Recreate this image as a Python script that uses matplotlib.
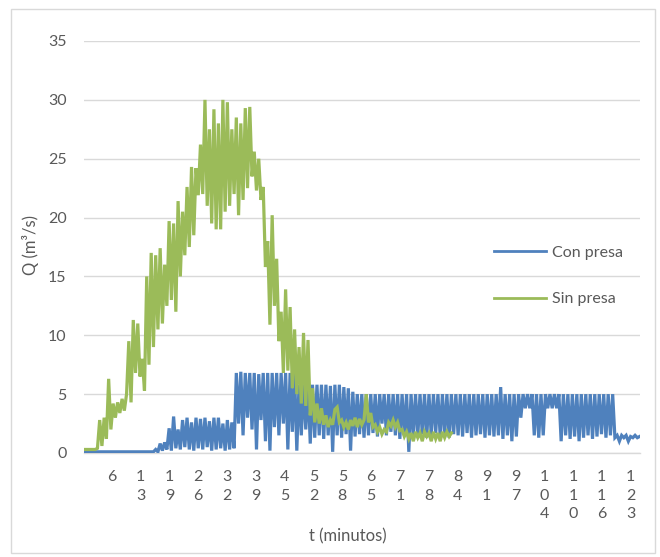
import numpy as np
import matplotlib
matplotlib.use("Agg")
import matplotlib.pyplot as plt
from matplotlib.patches import Rectangle

plt.rcParams['font.family'] = ['Lato', 'DejaVu Sans']

# Data: discharge values sampled every 0.5 min
dt_min = 0.5
q_sin_presa = [
    0.3, 0.3, 0.3, 0.3, 0.3, 0.3, 0.4, 2.8, 0.6, 3.0,
    1.2, 6.3, 2.0, 4.2, 3.0, 4.3, 3.4, 4.6, 3.6, 5.0,
    9.5, 4.3, 11.3, 6.8, 11.0, 6.5, 8.0, 5.3, 15.0, 7.5,
    17.0, 9.0, 16.8, 10.5, 17.4, 11.0, 16.0, 12.5, 19.7, 13.0,
    19.5, 12.0, 21.4, 15.0, 20.5, 16.8, 22.6, 17.5, 24.3, 18.5,
    24.2, 21.9, 26.2, 22.0, 30.0, 21.0, 27.5, 19.5, 29.2, 19.0,
    28.0, 19.0, 30.0, 20.5, 29.8, 21.0, 27.5, 22.0, 28.5, 20.2,
    28.0, 21.5, 29.3, 22.5, 29.4, 23.5, 25.6, 22.3, 25.0, 21.5,
    22.6, 15.8, 18.0, 10.9, 20.2, 12.5, 16.5, 9.5, 12.0, 6.8,
    13.9, 7.0, 12.4, 5.5, 10.5, 5.0, 9.0, 4.2, 10.2, 4.0,
    9.6, 3.2, 5.5, 2.6, 4.2, 2.5, 3.8, 2.4, 3.2, 2.2,
    2.8, 2.4, 3.7, 3.9, 2.6, 2.8, 2.2, 2.6, 2.0, 2.8,
    2.3, 3.0, 2.2, 2.9, 2.4, 2.8, 5.0, 2.6, 3.4, 2.2,
    2.4, 1.8, 2.2, 1.6, 2.0, 1.8, 2.6, 2.3, 2.8, 2.2,
    2.6, 1.9, 2.0, 1.4, 1.8, 1.2, 1.7, 1.0, 1.8, 1.3,
    1.7, 1.0, 1.8, 1.4, 1.7, 1.0, 1.8, 1.2, 1.7, 1.0,
    1.8, 1.3, 1.8, 1.4, 1.7,
]
q_con_presa = [
    0.1, 0.1, 0.1, 0.1, 0.1, 0.1, 0.1, 0.1, 0.1, 0.1,
    0.1, 0.1, 0.1, 0.1, 0.1, 0.1, 0.1, 0.1, 0.1, 0.1,
    0.1, 0.1, 0.1, 0.1, 0.1, 0.1, 0.1, 0.1, 0.1, 0.1,
    0.1, 0.1, 0.3, 0.1, 0.8, 0.2, 0.9, 0.3, 2.1, 0.2,
    3.1, 0.4, 2.0, 0.3, 2.8, 0.5, 3.0, 0.3, 2.6, 0.2,
    3.0, 0.4, 2.9, 0.3, 3.0, 0.5, 2.7, 0.2, 3.0, 0.3,
    3.0, 0.4, 2.5, 0.2, 2.8, 0.3, 2.6, 0.4, 6.8, 2.5,
    6.9, 1.5, 6.8, 3.0, 6.8, 2.0, 6.8, 0.3, 6.7, 2.8,
    6.8, 1.0, 6.8, 0.2, 6.8, 2.2, 6.8, 1.5, 6.8, 2.5,
    6.8, 0.3, 6.8, 1.8, 6.8, 0.2, 5.8, 1.5, 5.8, 2.0,
    5.8, 0.8, 5.8, 1.3, 5.8, 1.5, 5.8, 1.2, 5.8, 1.5,
    5.7, 0.1, 5.8, 1.5, 5.8, 1.3, 5.6, 1.6, 5.5, 0.2,
    5.2, 1.4, 5.0, 1.6, 5.0, 1.3, 5.0, 1.5, 5.0, 1.7,
    5.0, 1.4, 5.0, 2.5, 5.0, 1.5, 5.0, 1.8, 5.0, 1.5,
    5.0, 1.2, 5.0, 1.5, 5.0, 0.1, 5.0, 1.5, 5.0, 1.4,
    5.0, 1.6, 5.0, 1.3, 5.0, 1.5, 5.0, 1.7, 5.0, 1.4,
    5.0, 1.5, 5.0, 1.3, 5.0, 1.6, 5.0, 1.5, 5.0, 1.4,
    5.0, 1.7, 5.0, 1.3, 5.0, 1.5, 5.0, 1.6, 5.0, 1.3,
    5.0, 1.5, 5.0, 1.4, 5.0, 1.5, 5.6, 1.2, 5.0, 1.5,
    5.0, 1.0, 5.0, 1.4, 5.0, 3.0, 5.0, 3.8, 5.0, 3.8,
    5.0, 1.5, 5.0, 1.3, 5.0, 1.5, 5.0, 3.8, 5.0, 3.8,
    5.0, 3.8, 5.0, 1.0, 5.0, 1.5, 5.0, 1.2, 5.0, 1.4,
    5.0, 1.0, 5.0, 1.3, 5.0, 1.5, 5.0, 1.2, 5.0, 1.4,
    5.0, 1.6, 5.0, 1.3, 5.0, 1.5, 5.0, 1.3, 1.5, 1.0,
    1.5, 1.3, 1.5, 1.0, 1.4, 1.3, 1.5, 1.3, 1.4,
]
tick_labels = ["6", "13", "19", "26", "32", "39", "45", "52", "58", "65",
               "71", "78", "84", "91", "97", "104", "110", "116", "123"]
series_names = ["Con presa", "Sin presa"]
colors = ["#4F81BD", "#9BBB59"]

t_con = np.arange(len(q_con_presa)) * dt_min
t_sin = np.arange(len(q_sin_presa)) * dt_min

W, H = 660, 557
FS = 11.5
fig = plt.figure(figsize=(W / 100, H / 100), dpi=100)
ax = fig.add_axes([84 / W, 1 - 453 / H, (640 - 84) / W, (453 - 41) / H])

ax.plot(t_con, q_con_presa, color=colors[0], lw=2.3, label=series_names[0],
        solid_joinstyle='miter', zorder=3)
ax.plot(t_sin, q_sin_presa, color=colors[1], lw=2.3, label=series_names[1],
        solid_joinstyle='miter', zorder=4)

ax.set_xlim(0, 124.1)
ax.set_ylim(0, 35)
ax.set_yticks(np.arange(0, 36, 5))
ax.yaxis.grid(True, color="#D9D9D9", lw=1.0)
ax.set_axisbelow(True)
for s in ["top", "right", "left"]:
    ax.spines[s].set_visible(False)
ax.spines["bottom"].set_color("#D9D9D9")
ax.spines["bottom"].set_linewidth(1.0)

tick_pos = 6.18 + 6.435 * np.arange(len(tick_labels))
ax.set_xticks(tick_pos)
ax.set_xticklabels(["\n".join(lbl) for lbl in tick_labels], linespacing=1.38,
                   va="top")
ax.tick_params(axis="x", length=0, pad=12.5, labelsize=FS, labelcolor="#595959")
ax.tick_params(axis="y", length=0, pad=12.5, labelsize=FS, labelcolor="#595959")

fig.text(31 / W, 1 - 245 / H, "Q (m³/s)", rotation=90, ha="center",
         va="center", fontsize=12, color="#595959")
fig.text(348 / W, 1 - 536 / H, "t (minutos)", ha="center", va="center",
         fontsize=12, color="#595959")

leg = ax.legend(loc="upper left", bbox_to_anchor=(488 / W, 1 - 239 / H),
                bbox_transform=fig.transFigure, frameon=False, fontsize=FS,
                handlelength=3.25, handletextpad=0.38, labelspacing=2.05,
                borderaxespad=0)
for txt in leg.get_texts():
    txt.set_color("#595959")
for ln in leg.get_lines():
    ln.set_linewidth(2.0)

fig.patches.append(Rectangle((11 / W, 1 - 553 / H), (655 - 11) / W, (553 - 9) / H,
                             transform=fig.transFigure, fill=False,
                             edgecolor="#D9D9D9", lw=1.0))

fig.savefig("out.png", dpi=100, facecolor="white")
